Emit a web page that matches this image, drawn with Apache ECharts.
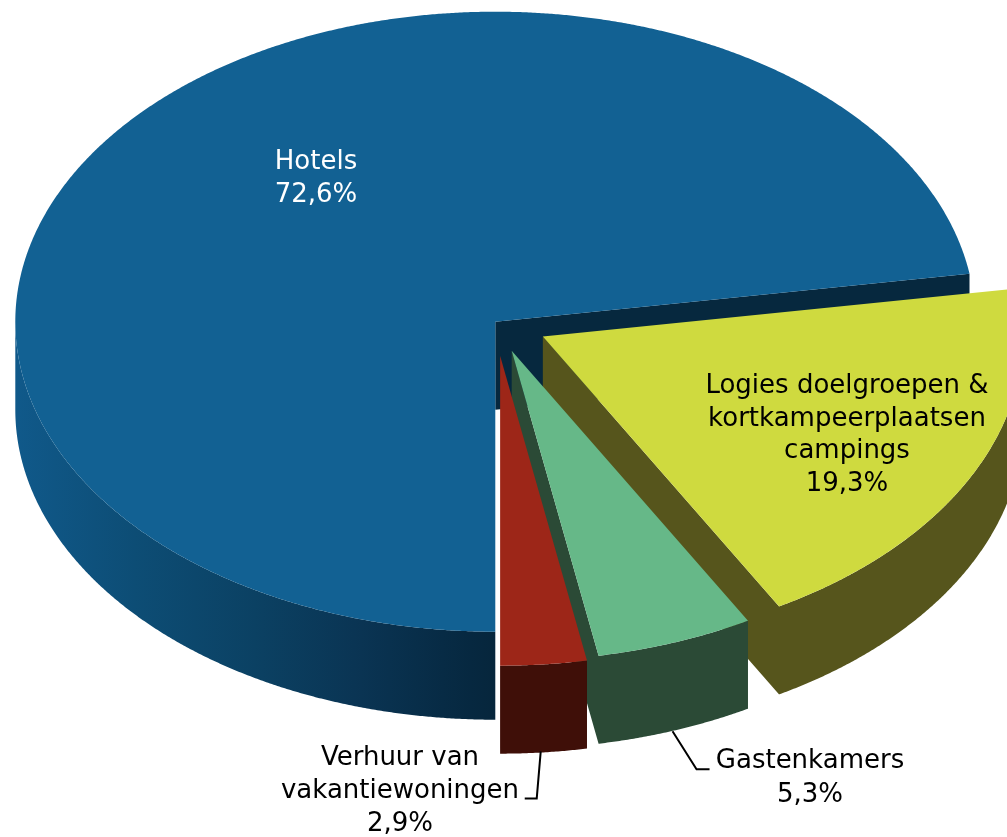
<!DOCTYPE html>
<html>
<head>
<meta charset="utf-8">
<style>html,body{margin:0;padding:0;background:#fff}#chart{width:1007px;height:837px}</style>
<script src="https://cdn.jsdelivr.net/npm/echarts@6/dist/echarts.min.js"></script>
</head>
<body>
<div id="chart"></div>
<script>
var categories = ['Hotels', 'Logies doelgroepen &\nkortkampeerplaatsen\ncampings', 'Gastenkamers', 'Verhuur van\nvakantiewoningen'];
var shares = [72.6, 19.3, 5.3, 2.9];
var topColors = ['#126193', '#cfda3f', '#66b888', '#9d2618'];
var sideColors = ['#06283e', '#56551c', '#2b4a36', '#3f0f08'];
var textColors = ['#fff', '#000', '#000', '#000'];

// pie shape on the page
var cx = 495.3, cy = 321.7, rx = 480, ry = 310, depth = 88;
var explode = [0, 0.11, 0.1, 0.11];
var labelPos = [[316, 179], [847, 435], [810, 778], [400, 791]];
var labelLineHeight = [33, 32.5, 34, 33];
// leader lines: offsets from the rim point at the middle of the slice
var leaders = [null, null, [[-3, 1], [21, 39], [34, 39]], [[-3, -1], [-7, 46], [-19, 46]]];

var total = shares.reduce(function (a, b) { return a + b; }, 0);

// t is clockwise from the top of the ellipse, first slice starts at the bottom
function sliceAngles(i) {
    var before = 0;
    for (var k = 0; k < i; k++) before += shares[k];
    var t0 = Math.PI + before / total * Math.PI * 2;
    if (t0 >= Math.PI * 2) t0 -= Math.PI * 2;
    return [t0, t0 + shares[i] / total * Math.PI * 2];
}

function rimPoint(o, t, dy) {
    return [o[0] + rx * Math.sin(t), o[1] - ry * Math.cos(t) + dy];
}

function polygon(points, fill) {
    return {type: 'polygon', shape: {points: points}, style: {fill: fill, stroke: null}, silent: true};
}

function renderSlice(params, api) {
    var i = params.dataIndex;
    var a = sliceAngles(i);
    var mid = (a[0] + a[1]) / 2;
    var o = [cx + explode[i] * rx * Math.sin(mid), cy - explode[i] * ry * Math.cos(mid)];
    var step = Math.PI / 720;
    var children = [];
    var t;

    // outer rim, only the part facing the viewer
    var pts = [], back = [];
    var from = Math.max(a[0], Math.PI / 2), to = Math.min(a[1], Math.PI * 1.5);
    for (t = from; t < to; t += step) {
        pts.push(rimPoint(o, t, 0));
        back.push(rimPoint(o, t, depth));
    }
    pts.push(rimPoint(o, to, 0));
    back.push(rimPoint(o, to, depth));

    if (i === 0) {
        // big slice: its wall is separate from the rim, rim gets the shading
        var wallEnd = rimPoint(o, a[1], 0);
        children.push(polygon([o, wallEnd, [wallEnd[0], wallEnd[1] + depth], [o[0], o[1] + depth]], sideColors[i]));
        children.push(polygon(pts.concat(back.slice().reverse()), new echarts.graphic.LinearGradient(cx - rx, 0, cx, 0, [
            {offset: 0, color: '#10598a'},
            {offset: 0.25, color: '#0d4d75'},
            {offset: 0.5, color: '#0b4163'},
            {offset: 0.72, color: '#0a3453'},
            {offset: 0.95, color: '#062840'},
            {offset: 1, color: '#06263c'}
        ], true)));
    } else {
        // wall and rim as one outline, so no seam shows at the corner
        children.push(polygon([o].concat(pts.slice().reverse(), back, [[o[0], o[1] + depth]]), sideColors[i]));
    }

    // top face
    var top = [o];
    for (t = a[0]; t < a[1]; t += step) top.push(rimPoint(o, t, 0));
    top.push(rimPoint(o, a[1], 0));
    children.push(polygon(top, topColors[i]));

    if (leaders[i]) {
        var s = rimPoint(o, mid, depth);
        children.push({
            type: 'polyline',
            shape: {points: leaders[i].map(function (d) { return [s[0] + d[0], s[1] + d[1]]; })},
            style: {stroke: '#000', lineWidth: 2, fill: null},
            silent: true
        });
    }

    children.push({
        type: 'text',
        style: {
            text: categories[i] + '\n' + String(api.value(0)).replace('.', ',') + '%',
            x: labelPos[i][0],
            y: labelPos[i][1],
            align: 'center',
            verticalAlign: 'middle',
            fill: textColors[i],
            font: '26px "DejaVu Sans"',
            lineHeight: labelLineHeight[i]
        },
        z2: 10,
        silent: true
    });
    return {type: 'group', children: children};
}

var myChart = echarts.init(document.getElementById('chart'), null, {renderer: 'canvas'});
myChart.setOption({
    animation: false,
    backgroundColor: '#fff',
    series: [{
        type: 'custom',
        coordinateSystem: 'none',
        renderItem: renderSlice,
        clip: false,
        data: shares.map(function (v) { return [v]; })
    }]
});
</script>
</body>
</html>
